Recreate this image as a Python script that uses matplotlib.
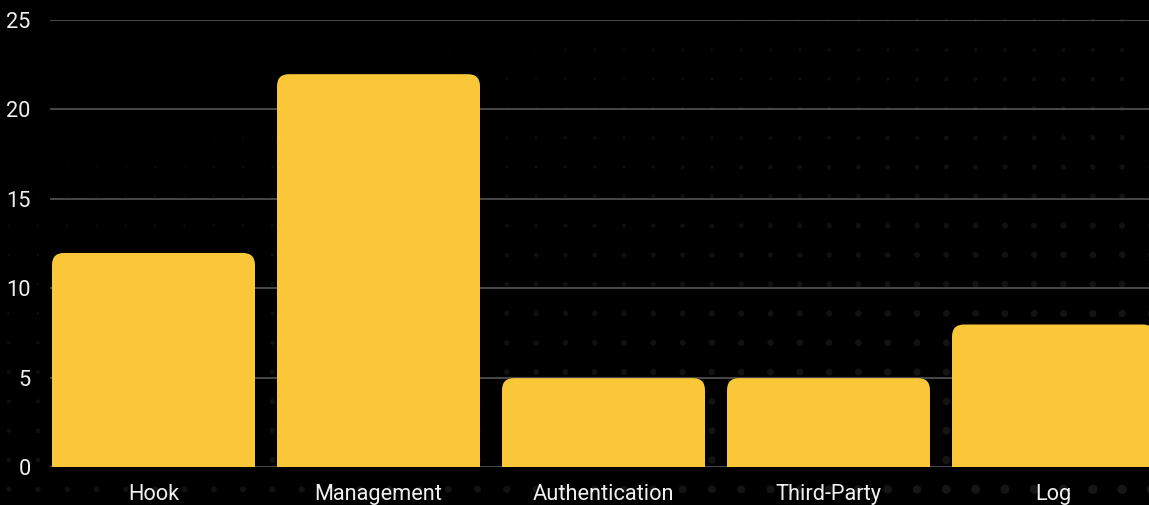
import matplotlib
matplotlib.use("Agg")
import matplotlib.pyplot as plt
import numpy as np
from matplotlib.patches import FancyBboxPatch

categories = ["Hook", "Management", "Authentication", "Third-Party", "Log"]
counts = [12, 22, 5, 5, 8]
yticks = [0, 5, 10, 15, 20, 25]

W, H = 1149, 505
plt.rcParams['font.family'] = ['Roboto', 'DejaVu Sans']

fig = plt.figure(figsize=(W / 100, H / 100), dpi=100)
fig.patch.set_facecolor("black")

# faint dot pattern behind everything, stronger toward bottom right
bg = fig.add_axes([0, 0, 1, 1])
bg.set_xlim(0, W)
bg.set_ylim(H, 0)
bg.axis("off")
gx = np.arange(8.7, W + 30, 29.3)
gy = np.arange(20.5, H + 30, 29.3)
XX, YY = np.meshgrid(gx, gy)
t = np.clip(0.55 * (XX / W) + 0.75 * (YY / H) - 0.25, 0, 1)
sizes = (1.5 + 8 * t) ** 2 * 0.5
cols = np.zeros((XX.size, 4))
cols[:, :3] = 0.04 + 0.045 * t.ravel()[:, None]
cols[:, 3] = 1
bg.scatter(XX.ravel(), YY.ravel(), s=sizes.ravel(), c=cols, linewidths=0)

ax = fig.add_axes([50 / W, (H - 467) / H, 1 - 50 / W, (467 - 20) / H])
ax.set_facecolor("none")
ax.set_xlim(-(153.5 - 50) / 225, (W - 153.5) / 225)
ax.set_ylim(0, 25)

ax.set_yticks(yticks)
ax.grid(axis="y", color="#555555", linewidth=1.2)
ax.set_axisbelow(True)
for s in ax.spines.values():
    s.set_visible(False)
ax.tick_params(length=0, colors="#f0f0f0", labelsize=15.7)
ax.tick_params(axis="y", pad=14)
ax.tick_params(axis="x", pad=12)

x = np.arange(len(categories))
ax.set_xticks(x)
ax.set_xticklabels(categories)

bw = 203 / 225
xunit = 1 / 225
yunit = 25 / 447
r = 12 * xunit
for xi, v in zip(x, counts):
    p = FancyBboxPatch((xi - bw / 2, -2), bw, v + 2 - 0.03,
                       boxstyle=f"round,pad=0,rounding_size={r}",
                       mutation_aspect=yunit / xunit,
                       facecolor="#F9C737", edgecolor="none", zorder=3)
    ax.add_patch(p)

fig.savefig("out.png", dpi=100, facecolor=fig.get_facecolor())
